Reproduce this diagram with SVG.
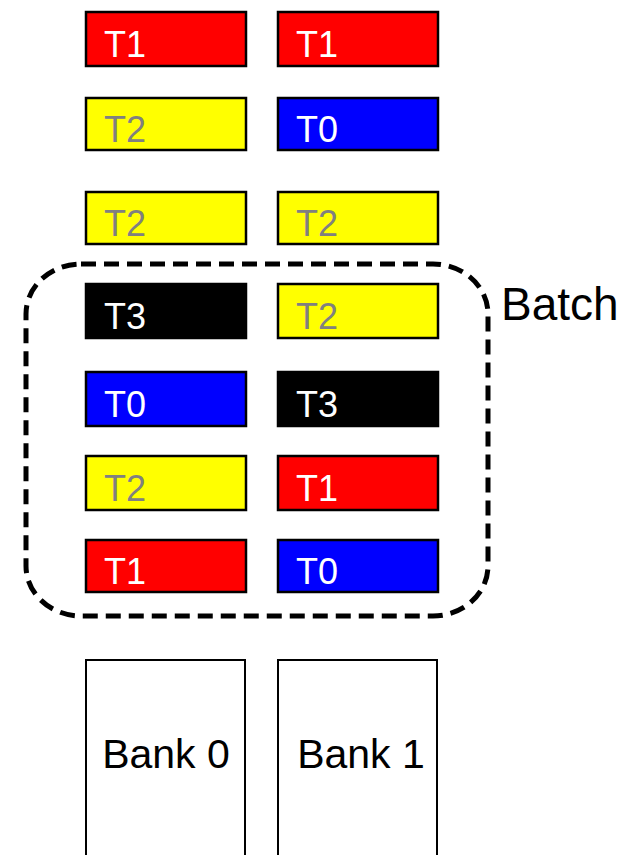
<svg xmlns="http://www.w3.org/2000/svg" width="622" height="855" viewBox="0 0 622 855">
<style>
.b{stroke:#000;stroke-width:2.5}
.r{fill:#ff0000}.y{fill:#ffff00}.u{fill:#0000ff}.k{fill:#000}
.t{font-family:"Liberation Sans",Arial,sans-serif;font-size:36px;fill:#fff}
.g{fill:#808080}
.bank{fill:#fff;stroke:#000;stroke-width:2}
.bt{font-family:"Liberation Sans",Arial,sans-serif;font-size:41px;fill:#000;text-anchor:middle}
</style>
<rect width="622" height="855" fill="#fff"/>
<g id="batch">
<rect x="26" y="264" width="462" height="352" rx="55" ry="50" fill="none" stroke="#000" stroke-width="5" stroke-dasharray="15,8"/>
<text x="501" y="320" font-family="Liberation Sans,Arial,sans-serif" font-size="46" fill="#000">Batch</text>
</g>
<g id="l1"><rect class="b r" x="86" y="12" width="160" height="54"/><text class="t" x="104" y="57">T1</text></g>
<g id="r1"><rect class="b r" x="278" y="12" width="160" height="54"/><text class="t" x="296" y="57">T1</text></g>
<g id="l2"><rect class="b y" x="86" y="98" width="160" height="52"/><text class="t g" x="104" y="142">T2</text></g>
<g id="r2"><rect class="b u" x="278" y="98" width="160" height="52"/><text class="t" x="296" y="142">T0</text></g>
<g id="l3"><rect class="b y" x="86" y="192" width="160" height="52"/><text class="t g" x="104" y="236">T2</text></g>
<g id="r3"><rect class="b y" x="278" y="192" width="160" height="52"/><text class="t g" x="296" y="236">T2</text></g>
<g id="l4"><rect class="b k" x="86" y="284" width="160" height="54"/><text class="t" x="104" y="329">T3</text></g>
<g id="r4"><rect class="b y" x="278" y="284" width="160" height="54"/><text class="t g" x="296" y="329">T2</text></g>
<g id="l5"><rect class="b u" x="86" y="372" width="160" height="54"/><text class="t" x="104" y="417">T0</text></g>
<g id="r5"><rect class="b k" x="278" y="372" width="160" height="54"/><text class="t" x="296" y="417">T3</text></g>
<g id="l6"><rect class="b y" x="86" y="456" width="160" height="54"/><text class="t g" x="104" y="501">T2</text></g>
<g id="r6"><rect class="b r" x="278" y="456" width="160" height="54"/><text class="t" x="296" y="501">T1</text></g>
<g id="l7"><rect class="b r" x="86" y="540" width="160" height="52"/><text class="t" x="104" y="584">T1</text></g>
<g id="r7"><rect class="b u" x="278" y="540" width="160" height="52"/><text class="t" x="296" y="584">T0</text></g>
<g id="bank0"><rect class="bank" x="86" y="660" width="159" height="210"/><text class="bt" x="166" y="768">Bank 0</text></g>
<g id="bank1"><rect class="bank" x="278" y="660" width="159" height="210"/><text class="bt" x="361" y="768">Bank 1</text></g>
<g id="connectors"></g>
</svg>
